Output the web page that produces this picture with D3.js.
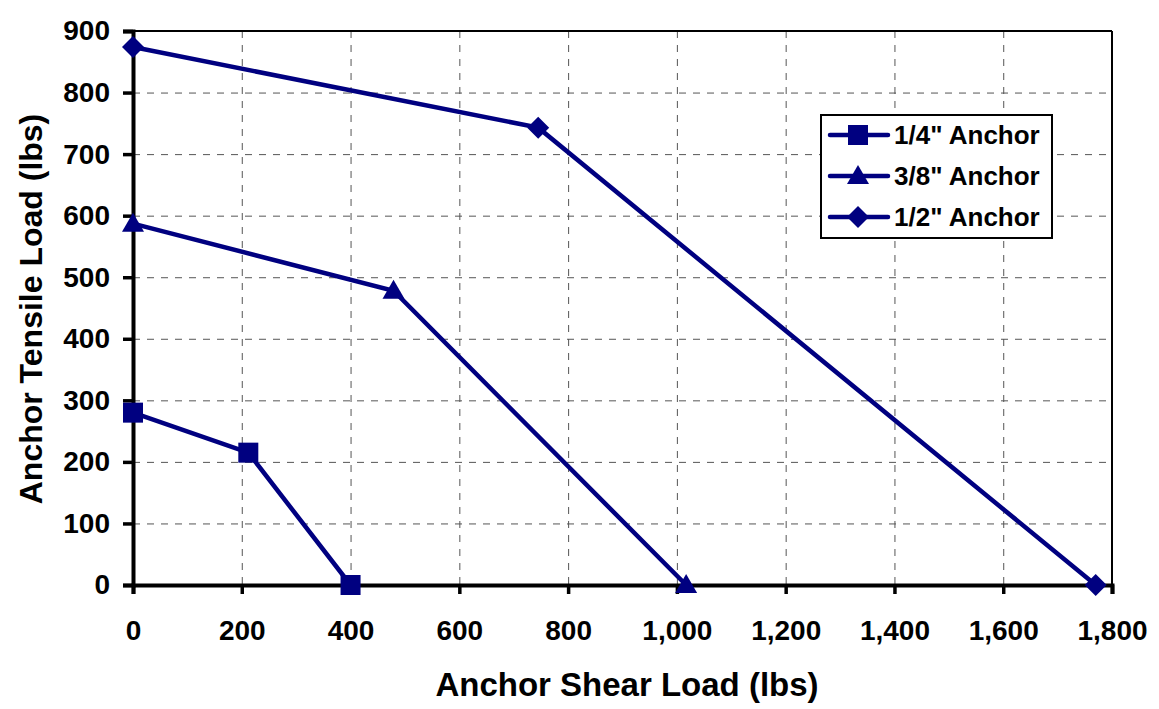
<!DOCTYPE html>
<meta charset="utf-8">
<style>
body { margin: 0; background: #fff; font-family: Arial, "Liberation Sans", sans-serif; }
.tick text { font-weight: bold; font-size: 28px; fill: #000; }
.grid line { stroke: #555; stroke-dasharray: 7,7; stroke-width: 1; }
.grid path { display: none; }
</style>
<script src="https://d3js.org/d3.v7.min.js"></script>
<body>
<div id="chart"></div>
<script>
// series
var series = ["1/4\" Anchor", "3/8\" Anchor", "1/2\" Anchor"];
var shapes = ["square", "triangle", "diamond"];
var shear = [
  [0, 212, 400],
  [0, 479, 1017],
  [0, 745, 1770]
];
var tensile = [
  [280, 215, 0],
  [587, 478, 0],
  [874, 743, 0]
];
var xTicks = [0, 200, 400, 600, 800, 1000, 1200, 1400, 1600, 1800];
var yTicks = [0, 100, 200, 300, 400, 500, 600, 700, 800, 900];

var W = 1159, H = 709;
var margin = {top: 31, right: 47, bottom: 124, left: 133},
    width = W - margin.left - margin.right,
    height = H - margin.top - margin.bottom;
var navy = "#000080";

var svg = d3.select("#chart").append("svg")
    .attr("width", W).attr("height", H)
  .append("g")
    .attr("transform", "translate(" + margin.left + "," + margin.top + ")");

var x = d3.scaleLinear().domain([0, 1800]).range([0, width]);
var y = d3.scaleLinear().domain([0, 900]).range([height, 0]);

// grid
svg.append("g").attr("class", "grid")
  .call(d3.axisBottom(x).tickValues(xTicks.slice(1, -1)).tickSize(height).tickFormat(""));
svg.append("g").attr("class", "grid")
  .call(d3.axisLeft(y).tickValues(yTicks.slice(1, -1)).tickSize(-width).tickFormat(""));

// frame top/right
svg.append("line").attr("x1", 0).attr("x2", width).attr("y1", 0).attr("y2", 0)
  .attr("stroke", "#000").attr("stroke-width", 2);
svg.append("line").attr("x1", width).attr("x2", width).attr("y1", 0).attr("y2", height)
  .attr("stroke", "#000").attr("stroke-width", 2);

// axes
var xa = svg.append("g").attr("transform", "translate(0," + height + ")")
  .call(d3.axisBottom(x).tickValues(xTicks).tickSize(9).tickPadding(26).tickFormat(d3.format(",")));
var ya = svg.append("g")
  .call(d3.axisLeft(y).tickValues(yTicks).tickSize(10).tickPadding(13));
[xa, ya].forEach(function(a) {
  a.select(".domain").attr("stroke", "#000").attr("stroke-width", 4);
  a.selectAll(".tick line").attr("stroke", "#000").attr("stroke-width", 3.5);
  a.attr("font-family", null).attr("font-size", null);
});

// markers
function marker(g, shape, cx, cy) {
  if (shape == "square") {
    g.append("rect").attr("x", cx - 10).attr("y", cy - 10).attr("width", 20).attr("height", 20).attr("fill", navy);
  } else if (shape == "triangle") {
    g.append("path").attr("d", "M" + cx + "," + (cy - 11) + "L" + (cx + 11) + "," + (cy + 8) + "L" + (cx - 11) + "," + (cy + 8) + "Z").attr("fill", navy);
  } else {
    g.append("path").attr("d", "M" + cx + "," + (cy - 11) + "L" + (cx + 11) + "," + cy + "L" + cx + "," + (cy + 11) + "L" + (cx - 11) + "," + cy + "Z").attr("fill", navy);
  }
}

var line = d3.line().x(function(d) { return x(d[0]); }).y(function(d) { return y(d[1]); });
series.forEach(function(s, i) {
  var pts = shear[i].map(function(v, j) { return [v, tensile[i][j]]; });
  var g = svg.append("g");
  g.append("path").datum(pts).attr("d", line)
    .attr("fill", "none").attr("stroke", navy).attr("stroke-width", 4.5);
  pts.forEach(function(p) { marker(g, shapes[i], x(p[0]), y(p[1])); });
});

// legend
var lg = svg.append("g").attr("transform", "translate(" + (821 - margin.left) + "," + (115 - margin.top) + ")");
lg.append("rect").attr("width", 231).attr("height", 123)
  .attr("fill", "#fff").attr("stroke", "#000").attr("stroke-width", 2);
series.forEach(function(s, i) {
  var cy = 20 + i * 41;
  lg.append("line").attr("x1", 9).attr("x2", 67).attr("y1", cy).attr("y2", cy)
    .attr("stroke", navy).attr("stroke-width", 4.5).attr("stroke-linecap", "round");
  marker(lg, shapes[i], 37, cy);
  lg.append("text").attr("x", 73).attr("y", cy + 9)
    .attr("font-weight", "bold").attr("font-size", "26px").text(s);
});

// axis titles
svg.append("text").attr("x", 627 - margin.left).attr("y", 696 - margin.top)
  .attr("text-anchor", "middle").attr("font-weight", "bold").attr("font-size", "33px")
  .text("Anchor Shear Load (lbs)");
svg.append("text").attr("transform", "translate(" + (42 - margin.left) + "," + (309 - margin.top) + ")rotate(-90)")
  .attr("text-anchor", "middle").attr("font-weight", "bold").attr("font-size", "32px")
  .text("Anchor Tensile Load (lbs)");
</script>
</body>
